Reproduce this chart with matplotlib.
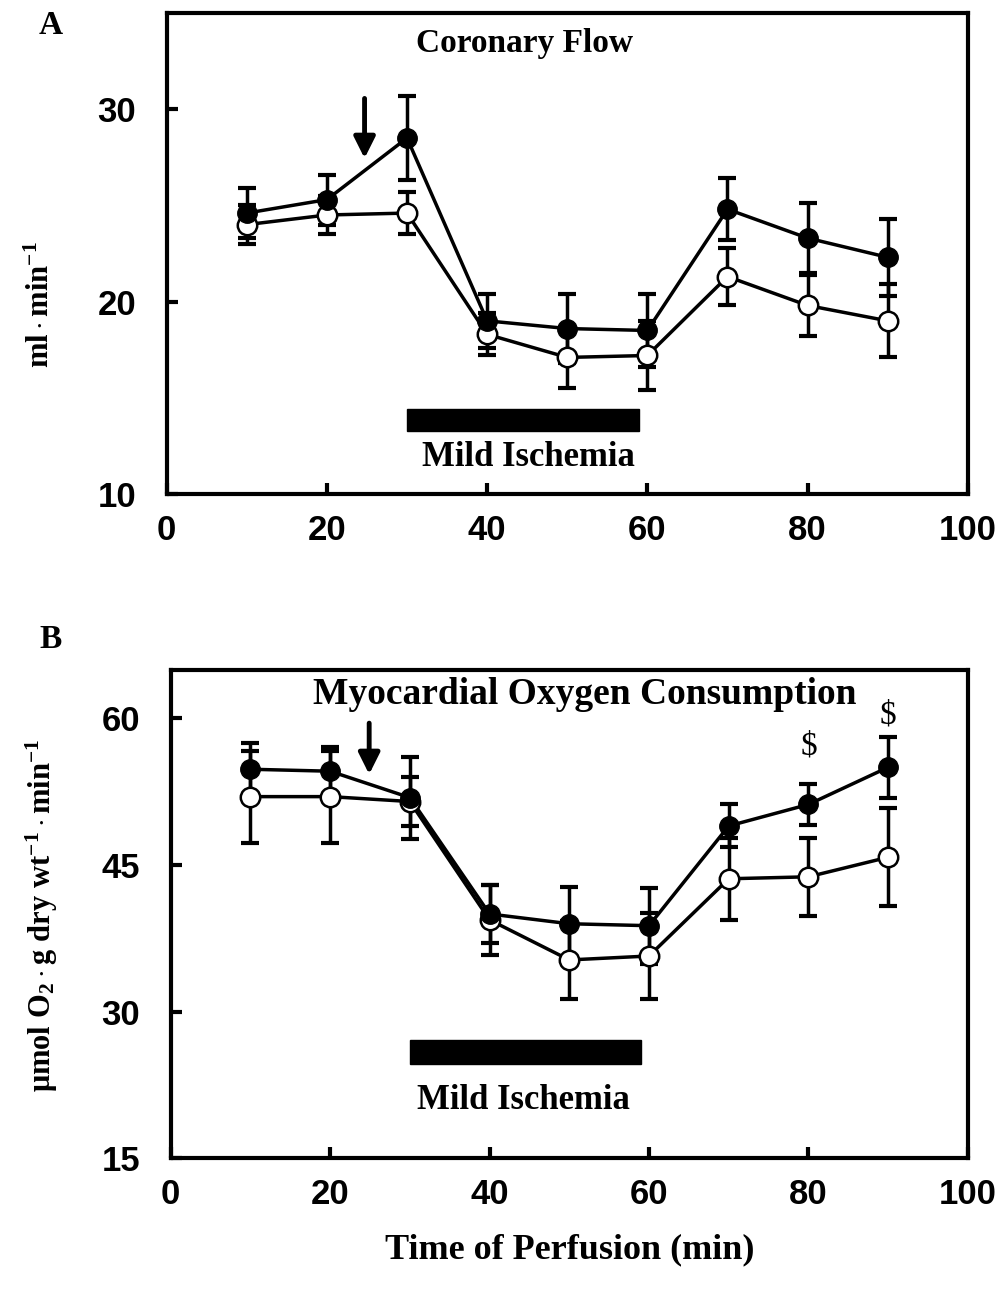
import numpy as np
import matplotlib
matplotlib.use("Agg")
import matplotlib.pyplot as plt
from matplotlib.patches import Rectangle

plt.rcParams.update({
    "mathtext.fontset": "custom",
    "mathtext.rm": "Liberation Serif:bold",
    "mathtext.it": "Liberation Serif:italic:bold",
    "mathtext.bf": "Liberation Serif:bold",
    "axes.linewidth": 3,
})
SERIF = "Liberation Serif"
SANS = "Liberation Sans"

# ---------- data ----------
time = [10, 20, 30, 40, 50, 60, 70, 80, 90]

flow_filled = [24.6, 25.3, 28.5, 19.0, 18.6, 18.5, 24.8, 23.3, 22.3]
flow_filled_sd = [1.3, 1.3, 2.2, 1.4, 1.8, 1.9, 1.6, 1.8, 2.0]
flow_open = [24.0, 24.5, 24.6, 18.3, 17.1, 17.2, 21.3, 19.8, 19.0]
flow_open_sd = [1.0, 1.0, 1.1, 1.1, 1.6, 1.8, 1.5, 1.6, 1.9]

mvo2_filled = [54.8, 54.6, 51.9, 40.0, 39.0, 38.8, 49.0, 51.2, 55.0]
mvo2_filled_sd = [2.7, 2.5, 4.2, 3.0, 3.8, 3.9, 2.2, 2.1, 3.1]
mvo2_open = [52.0, 52.0, 51.5, 39.4, 35.3, 35.7, 43.6, 43.8, 45.8]
mvo2_open_sd = [4.7, 4.7, 2.5, 3.6, 4.0, 4.4, 4.2, 4.0, 5.0]

ischemia = (30, 59)          # start / end of mild ischemia (min)
sig_times = [80, 90]         # "$" marks in panel B
sig_y = [57.2, 60.3]

fig = plt.figure(figsize=(10.04, 12.9), dpi=100)
axA = fig.add_axes([0.166, 0.617, 0.798, 0.373])
axB = fig.add_axes([0.170, 0.102, 0.794, 0.379])


def draw_series(ax, y_f, sd_f, y_o, sd_o):
    for y, sd in ((y_o, sd_o), (y_f, sd_f)):
        ax.errorbar(time, y, yerr=sd, fmt="none", ecolor="black", elinewidth=2.5,
                    capsize=6.5, capthick=3, zorder=2)
    ax.plot(time, y_o, color="black", lw=2.5, zorder=3)
    ax.plot(time, y_f, color="black", lw=2.5, zorder=3)
    ax.plot(time, y_o, "o", ms=14, mfc="white", mec="black", mew=1.8, zorder=4)
    ax.plot(time, y_f, "o", ms=14, mfc="black", mec="black", zorder=5)


def style(ax, yticks):
    ax.set_xlim(0, 100)
    ax.set_xticks([0, 20, 40, 60, 80, 100])
    ax.set_yticks(yticks)
    ax.tick_params(direction="in", length=8, width=3, labelsize=25, pad=14)
    ax.tick_params(axis="y", pad=22)
    for lab in ax.get_xticklabels() + ax.get_yticklabels():
        lab.set_fontfamily(SANS)
        lab.set_fontweight("bold")


# ---------- panel A ----------
draw_series(axA, flow_filled, flow_filled_sd, flow_open, flow_open_sd)
axA.set_ylim(10, 35)
style(axA, [10, 20, 30])
axA.add_patch(Rectangle((ischemia[0], 13.3), ischemia[1] - ischemia[0], 1.1,
                        color="black", zorder=2))
axA.text(45.1, 11.9, "Mild Ischemia", ha="center", va="center", fontsize=25,
         family=SERIF, weight="bold")
axA.text(44.7, 33.4, "Coronary Flow", ha="center", va="center", fontsize=24,
         family=SERIF, weight="bold")
axA.annotate("", xy=(24.7, 27.3), xytext=(24.7, 30.7),
             arrowprops=dict(arrowstyle="-|>", lw=3.5, color="black", mutation_scale=32))

# ---------- panel B ----------
draw_series(axB, mvo2_filled, mvo2_filled_sd, mvo2_open, mvo2_open_sd)
axB.set_ylim(15, 65)
style(axB, [15, 30, 45, 60])
axB.add_patch(Rectangle((ischemia[0], 24.7), ischemia[1] - ischemia[0], 2.4,
                        color="black", zorder=2))
axB.text(44.3, 20.9, "Mild Ischemia", ha="center", va="center", fontsize=25,
         family=SERIF, weight="bold")
axB.text(51.9, 62.4, "Myocardial Oxygen Consumption", ha="center", va="center",
         fontsize=27, family=SERIF, weight="bold")
axB.annotate("", xy=(24.9, 54.0), xytext=(24.9, 59.8),
             arrowprops=dict(arrowstyle="-|>", lw=3.5, color="black", mutation_scale=32))
for t, ys in zip(sig_times, sig_y):
    axB.text(t, ys, "$", ha="center", va="center", fontsize=24, family=SERIF)
axB.set_xlabel("Time of Perfusion (min)", fontsize=26, family=SERIF, weight="bold",
               labelpad=16)

# ---------- labels ----------
fig.text(0.040, 1 - 305 / 1290, r"$\mathrm{ml\cdot min^{-1}}$", rotation=90,
         ha="center", va="center", fontsize=22)
fig.text(0.042, 1 - 915 / 1290,
         r"$\mathrm{μmol\ O_2\cdot g\ dry\ wt^{-1}\cdot min^{-1}}$",
         rotation=90, ha="center", va="center", fontsize=22)
fig.text(0.050, 1 - 25 / 1290, "A", ha="center", va="center", fontsize=24,
         family=SERIF, weight="bold")
fig.text(0.050, 1 - 640 / 1290, "B", ha="center", va="center", fontsize=24,
         family=SERIF, weight="bold")

plt.savefig("out.png", dpi=100, facecolor="white")
print("done")
